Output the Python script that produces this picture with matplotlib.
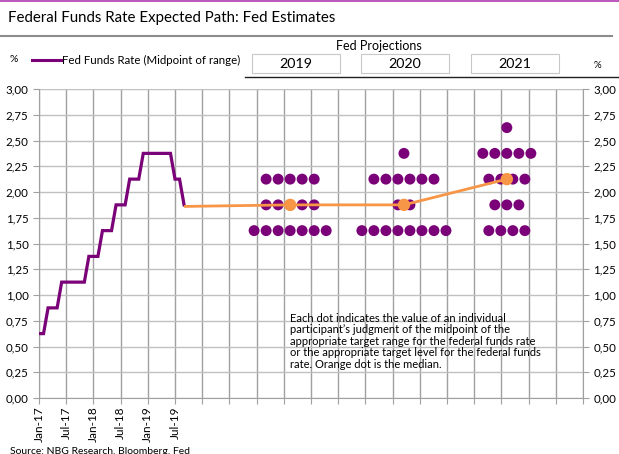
import numpy as np
import matplotlib
matplotlib.use("Agg")
import matplotlib.pyplot as plt
from matplotlib.lines import Line2D
from matplotlib.patches import Rectangle
from matplotlib.ticker import FuncFormatter

plt.rcParams['font.family'] = ['Lato', 'DejaVu Sans']

# months since Jan-17, fed funds midpoint
months = list(range(33))
ffr = [0.625, 0.625,
       0.875, 0.875, 0.875,
       1.125, 1.125, 1.125, 1.125, 1.125, 1.125,
       1.375, 1.375, 1.375,
       1.625, 1.625, 1.625,
       1.875, 1.875, 1.875,
       2.125, 2.125, 2.125,
       2.375, 2.375, 2.375, 2.375, 2.375, 2.375, 2.375,
       2.125, 2.125,
       1.875]

tick_labels = ['Jan-17', 'Jul-17', 'Jan-18', 'Jul-18', 'Jan-19', 'Jul-19']

# dot plot: (rate, number of participants)
years = ['2019', '2020', '2021']
year_pos = [55.4, 80.5, 103.2]
dots_2019 = [(2.125, 5), (1.875, 5), (1.625, 7)]
dots_2020 = [(2.375, 1), (2.125, 6), (1.875, 2), (1.625, 8)]
dots_2021 = [(2.625, 1), (2.375, 5), (2.125, 4), (1.875, 3), (1.625, 4)]
medians = [1.875, 1.875, 2.125]
median_start = (32.3, 1.86)

purple = '#7A0177'
orange = '#F79646'

W, H = 619, 454
fig = plt.figure(figsize=(W / 100, H / 100), dpi=100)

def fx(px):
    return px / W

def fy(py):
    return 1 - py / H

ax = fig.add_axes([fx(39), fy(398), fx(583) - fx(39), fy(89) - fy(398)])
ax.set_xlim(0, 120)
ax.set_ylim(0, 3)

ax.set_xticks(np.arange(0, 121, 6))
ax.set_xticklabels(tick_labels + [''] * 15, rotation=90, fontsize=8.5)
ax.set_yticks(np.arange(0, 3.01, 0.25))
fmt = FuncFormatter(lambda v, p: f'{v:.2f}'.replace('.', ','))
ax.yaxis.set_major_formatter(fmt)
ax.tick_params(axis='both', direction='out', length=4, color='#A0A0A0', labelsize=8.3)
ax.tick_params(axis='x', pad=2, labelsize=8.5)

ax.grid(axis='x', color='#A0A0A0', lw=1)
ax.grid(axis='y', color='#C0C0C0', lw=1)
ax.set_axisbelow(True)
for s in ['left', 'right', 'bottom']:
    ax.spines[s].set_color('#A0A0A0')
ax.spines['top'].set_visible(False)

ax2 = ax.twinx()
ax2.set_ylim(0, 3)
ax2.set_yticks(np.arange(0, 3.01, 0.25))
ax2.yaxis.set_major_formatter(fmt)
ax2.tick_params(axis='y', direction='out', length=4, color='#A0A0A0', labelsize=8.3)
for s in ['left', 'right', 'bottom', 'top']:
    ax2.spines[s].set_visible(False)

ax.plot(months, ffr, color=purple, lw=2.3, solid_joinstyle='miter', zorder=3)

# participants' dots
dot_step = 2.65
for xc, dots in zip(year_pos, [dots_2019, dots_2020, dots_2021]):
    for rate, n in dots:
        xs = xc + (np.arange(n) - (n - 1) / 2) * dot_step
        ax.scatter(xs, [rate] * n, s=62, color=purple, edgecolors='none', zorder=4)

# median path
mx = [median_start[0]] + year_pos
my = [median_start[1]] + medians
ax.plot(mx, my, color=orange, lw=2, zorder=5)
ax.scatter(year_pos, medians, s=80, color=orange, edgecolors='none', zorder=6)

ax.text(0.462, 0.275,
        'Each dot indicates the value of an individual\n'
        'participant\u2019s judgment of the midpoint of the\n'
        'appropriate target range for the federal funds rate\n'
        'or the appropriate target level for the federal funds\n'
        'rate. Orange dot is the median.',
        transform=ax.transAxes, fontsize=8, va='top', ha='left',
        linespacing=1.05, zorder=7)

# header
fig.add_artist(Line2D([0, 1], [fy(0.8), fy(0.8)], color='#B03AB0', lw=1.2))
fig.text(fx(8), fy(18), 'Federal Funds Rate Expected Path: Fed Estimates',
         fontsize=10.8, va='center', ha='left')
fig.add_artist(Line2D([0, fx(612)], [fy(35.5), fy(35.5)], color='#8C8C8C', lw=1.5))

fig.text(fx(10), fy(60), '%', fontsize=7.5, va='center', ha='left')
fig.add_artist(Line2D([fx(32), fx(61)], [fy(60), fy(60)], color=purple, lw=2.2))
fig.text(fx(62), fy(60), 'Fed Funds Rate (Midpoint of range)', fontsize=8.3,
         va='center', ha='left')

fig.text(fx(379), fy(45.5), 'Fed Projections', fontsize=9, va='center', ha='center')
box_left = [252, 361, 471]
for bx, yr in zip(box_left, years):
    fig.add_artist(Rectangle((fx(bx), fy(72.5)), fx(88), fy(53.5) - fy(72.5),
                             facecolor='white', edgecolor='#C8C8C8', lw=0.8))
    fig.text(fx(bx + 44), fy(63.5), yr, fontsize=10.3, va='center', ha='center')
fig.text(fx(597), fy(65), '%', fontsize=7, va='center', ha='center')
fig.add_artist(Line2D([fx(245), 1], [fy(76.5), fy(76.5)], color='#202020', lw=1))

fig.text(fx(10), fy(451), 'Source: NBG Research, Bloomberg, Fed', fontsize=7.5,
         va='center', ha='left')

fig.savefig('out.png', dpi=100)
